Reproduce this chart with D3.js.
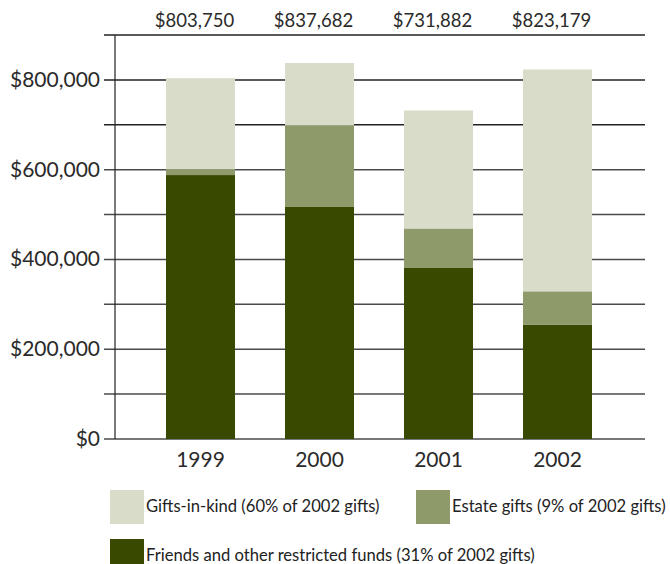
<!DOCTYPE html>
<html>
<head>
<meta charset="utf-8">
<script src="https://cdn.jsdelivr.net/npm/d3@7"></script>
<style>
  html, body { margin: 0; padding: 0; background: #fff; }
  svg { display: block; font-family: Lato, "Open Sans", sans-serif; }
</style>
</head>
<body>
<svg id="chart" width="670" height="564"></svg>
<script>
// ---- data ----
const years = ["1999", "2000", "2001", "2002"];
const totalLabels = ["$803,750", "$837,682", "$731,882", "$823,179"];
const friendsFunds = [588000, 518000, 381000, 255000];
const estateGifts = [13000, 181000, 88000, 74000];
const giftsInKind = [202750, 138682, 262882, 494179];
const seriesNames = ["Friends and other restricted funds (31% of 2002 gifts)",
                     "Estate gifts (9% of 2002 gifts)",
                     "Gifts-in-kind (60% of 2002 gifts)"];
const seriesKeys = ["friends", "estate", "kind"];
const yTickValues = [0, 200000, 400000, 600000, 800000];
const gridValues = [0, 100000, 200000, 300000, 400000, 500000, 600000, 700000, 800000, 900000];
const colors = { friends: "#394900", estate: "#8e9a69", kind: "#d9dcc9" };

const rows = years.map((y, i) => ({
  year: y, friends: friendsFunds[i], estate: estateGifts[i], kind: giftsInKind[i], label: totalLabels[i]
}));

const svg = d3.select("#chart");
const x = d3.scaleBand().domain(years).range([141, 617]).paddingInner(0.42).paddingOuter(0.21);
const y = d3.scaleLinear().domain([0, 900000]).range([439, 35]);

// gridlines
svg.append("g").selectAll("line").data(gridValues).join("line")
  .attr("x1", 104).attr("x2", 645)
  .attr("y1", d => y(d)).attr("y2", d => y(d))
  .attr("stroke", d => d >= 700000 ? "#222" : "#4a4a4a")
  .attr("stroke-width", 1.5);

// vertical axis line
svg.append("line").attr("x1", 115).attr("x2", 115)
  .attr("y1", y(900000)).attr("y2", y(0))
  .attr("stroke", "#222").attr("stroke-width", 1.2);

// stacked bars
const stack = d3.stack().keys(seriesKeys)(rows);
svg.append("g").selectAll("g").data(stack).join("g")
  .attr("fill", d => colors[d.key])
  .selectAll("rect").data(d => d).join("rect")
  .attr("x", d => x(d.data.year))
  .attr("width", x.bandwidth())
  .attr("y", d => y(d[1]))
  .attr("height", d => y(d[0]) - y(d[1]));

// y labels
svg.append("g").selectAll("text").data(yTickValues).join("text")
  .attr("x", 100).attr("y", d => y(d)).attr("dy", "0.33em")
  .attr("text-anchor", "end")
  .attr("font-size", 21).attr("fill", "#2a2a2a")
  .text(d => "$" + d3.format(",")(d));

// x labels
svg.append("g").selectAll("text").data(years).join("text")
  .attr("x", d => x(d) + x.bandwidth() / 2).attr("y", 467)
  .attr("text-anchor", "middle")
  .attr("font-size", 21).attr("fill", "#2a2a2a")
  .text(d => d);

// totals at top
svg.append("g").selectAll("text").data(rows).join("text")
  .attr("x", d => x(d.year) + x.bandwidth() / 2 - 6).attr("y", 27)
  .attr("text-anchor", "middle")
  .attr("font-size", 18.5).attr("fill", "#2a2a2a")
  .text(d => d.label);

// legend
const legendItems = [
  { key: "kind", name: seriesNames[2], x: 110, y: 490 },
  { key: "estate", name: seriesNames[1], x: 416, y: 490 },
  { key: "friends", name: seriesNames[0], x: 110, y: 539 }
];
const lg = svg.append("g").selectAll("g").data(legendItems).join("g")
  .attr("transform", d => `translate(${d.x},${d.y})`);
lg.append("rect").attr("width", 34).attr("height", 34).attr("fill", d => colors[d.key]);
lg.append("text").attr("x", 36).attr("y", 22)
  .attr("font-size", 16.6).attr("fill", "#222")
  .text(d => d.name);
</script>
</body>
</html>
